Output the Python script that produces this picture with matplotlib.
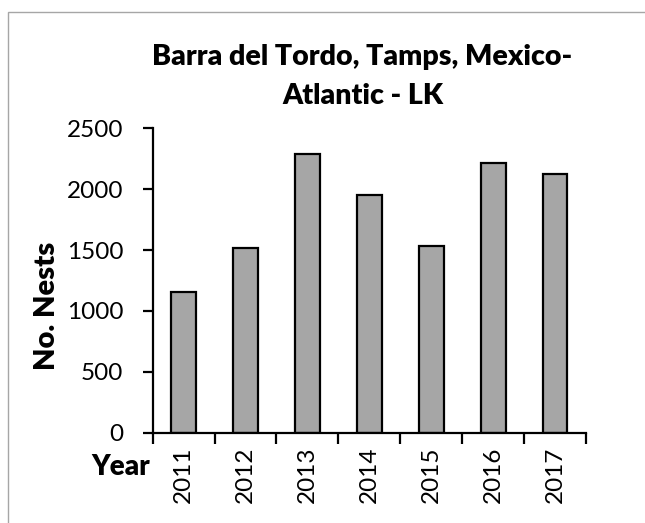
import numpy as np
import matplotlib.pyplot as plt
from matplotlib.patches import Rectangle

plt.rcParams['font.family'] = ['Lato', 'DejaVu Sans']

years = ['2011', '2012', '2013', '2014', '2015', '2016', '2017']
nests = [1153, 1514, 2288, 1951, 1535, 2212, 2124]

fig = plt.figure(figsize=(6.45, 5.23), dpi=100)
ax = fig.add_axes([0.2367, 0.1727, 0.6718, 0.582])

# light frame round the chart area (runs off the right and bottom edges)
fig.patches.append(Rectangle((8 / 645, -0.1), 1.2, 1 - 11.7 / 523 + 0.1,
                             transform=fig.transFigure, fill=False,
                             edgecolor='#a6a6a6', linewidth=1.0))

x = np.arange(len(years))
ax.bar(x, nests, width=0.4, color='#a6a6a6', edgecolor='black', linewidth=1.6)

ax.set_xlim(-0.5, len(years) - 0.5)
ax.set_ylim(0, 2500)
ax.set_yticks(np.arange(0, 2501, 500))
ax.tick_params(axis='y', labelsize=17.5, length=7, width=1.6, pad=14)

# tick marks between categories, labels at the centres
ax.set_xticks(np.arange(-0.5, len(years), 1.0))
ax.set_xticklabels([])
ax.tick_params(axis='x', which='major', length=8, width=1.6)
ax.set_xticks(x, minor=True)
ax.set_xticklabels(years, minor=True, rotation=90, fontsize=17.5)
ax.tick_params(axis='x', which='minor', length=0, pad=10)

for s in ['top', 'right']:
    ax.spines[s].set_visible(False)
for s in ['left', 'bottom']:
    ax.spines[s].set_linewidth(1.6)

ax.set_ylabel('No. Nests', fontsize=21, fontweight='heavy')
ax.yaxis.set_label_coords(-0.214, 0.416)

fig.text(0.562, 1 - 57 / 523, 'Barra del Tordo, Tamps, Mexico-',
         ha='center', va='center', fontsize=20.5, fontweight='heavy')
fig.text(0.562, 1 - 96 / 523, 'Atlantic - LK',
         ha='center', va='center', fontsize=20.5, fontweight='heavy')
fig.text(121 / 645, 1 - 467 / 523, 'Year', ha='center', va='center',
         fontsize=20, fontweight='heavy')

fig.savefig('out.png', dpi=100)
